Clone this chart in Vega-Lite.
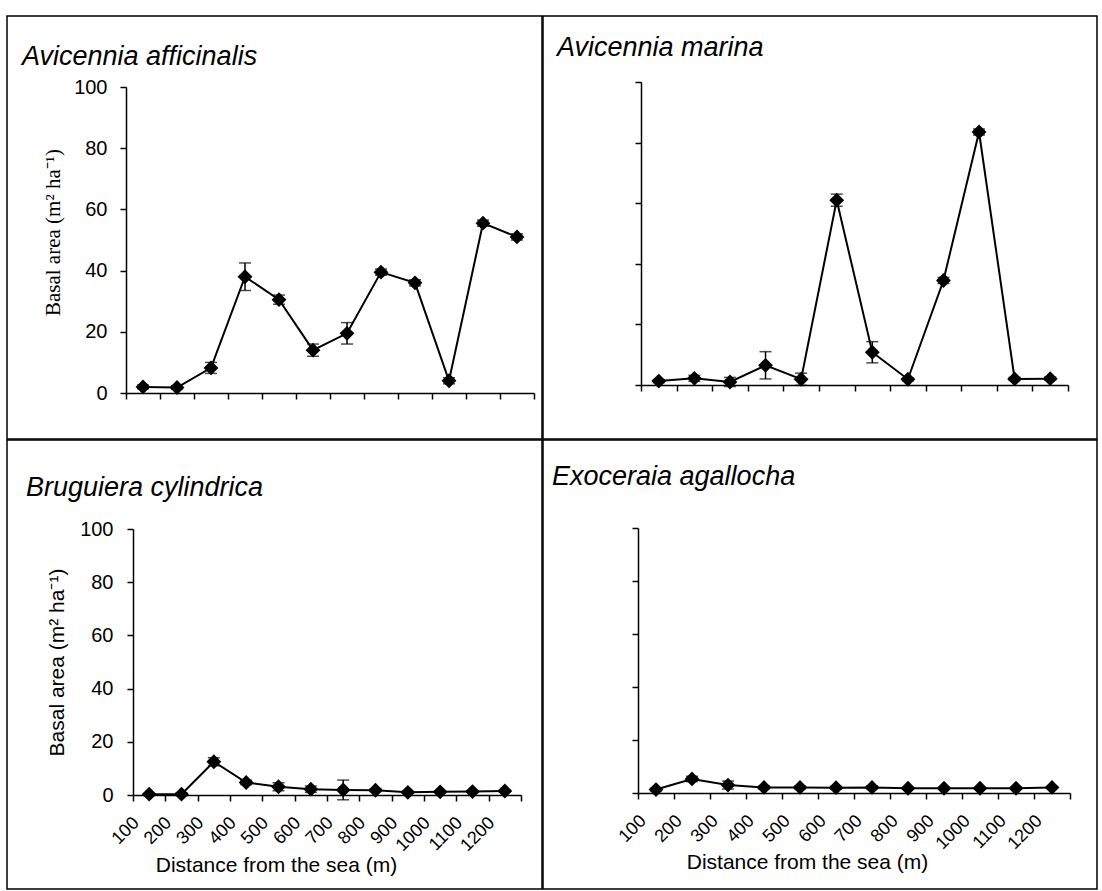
{
  "$schema": "https://vega.github.io/schema/vega-lite/v6.json",
  "background": "white",
  "padding": {"left": 6, "top": 15, "right": 0, "bottom": 0},
  "datasets": {
    "basal": [
      {"species": "Avicennia afficinalis", "distance": 100, "value": 2.0, "err": 0.6},
      {"species": "Avicennia afficinalis", "distance": 200, "value": 1.8, "err": 0.6},
      {"species": "Avicennia afficinalis", "distance": 300, "value": 8.2, "err": 1.8},
      {"species": "Avicennia afficinalis", "distance": 400, "value": 38.0, "err": 4.5},
      {"species": "Avicennia afficinalis", "distance": 500, "value": 30.5, "err": 1.5},
      {"species": "Avicennia afficinalis", "distance": 600, "value": 14.0, "err": 2.0},
      {"species": "Avicennia afficinalis", "distance": 700, "value": 19.5, "err": 3.5},
      {"species": "Avicennia afficinalis", "distance": 800, "value": 39.5, "err": 1.0},
      {"species": "Avicennia afficinalis", "distance": 900, "value": 36.0, "err": 1.0},
      {"species": "Avicennia afficinalis", "distance": 1000, "value": 4.0, "err": 1.0},
      {"species": "Avicennia afficinalis", "distance": 1100, "value": 55.5, "err": 1.0},
      {"species": "Avicennia afficinalis", "distance": 1200, "value": 51.0, "err": 1.0},
      {"species": "Avicennia marina", "distance": 100, "value": 1.3, "err": 0.5},
      {"species": "Avicennia marina", "distance": 200, "value": 2.2, "err": 1.0},
      {"species": "Avicennia marina", "distance": 300, "value": 1.0, "err": 1.5},
      {"species": "Avicennia marina", "distance": 400, "value": 6.5, "err": 4.5},
      {"species": "Avicennia marina", "distance": 500, "value": 1.9, "err": 2.0},
      {"species": "Avicennia marina", "distance": 600, "value": 61.0, "err": 2.0},
      {"species": "Avicennia marina", "distance": 700, "value": 10.8, "err": 3.5},
      {"species": "Avicennia marina", "distance": 800, "value": 1.9, "err": 0.5},
      {"species": "Avicennia marina", "distance": 900, "value": 34.5, "err": 1.0},
      {"species": "Avicennia marina", "distance": 1000, "value": 83.5, "err": 1.0},
      {"species": "Avicennia marina", "distance": 1100, "value": 2.0, "err": 0.5},
      {"species": "Avicennia marina", "distance": 1200, "value": 2.1, "err": 0.5},
      {"species": "Bruguiera cylindrica", "distance": 100, "value": 0.3, "err": 0.3},
      {"species": "Bruguiera cylindrica", "distance": 200, "value": 0.3, "err": 0.5},
      {"species": "Bruguiera cylindrica", "distance": 300, "value": 12.5, "err": 1.5},
      {"species": "Bruguiera cylindrica", "distance": 400, "value": 4.7, "err": 0.8},
      {"species": "Bruguiera cylindrica", "distance": 500, "value": 3.1, "err": 1.5},
      {"species": "Bruguiera cylindrica", "distance": 600, "value": 2.2, "err": 1.2},
      {"species": "Bruguiera cylindrica", "distance": 700, "value": 1.9, "err": 3.7},
      {"species": "Bruguiera cylindrica", "distance": 800, "value": 1.8, "err": 0.5},
      {"species": "Bruguiera cylindrica", "distance": 900, "value": 1.0, "err": 0.3},
      {"species": "Bruguiera cylindrica", "distance": 1000, "value": 1.2, "err": 0.3},
      {"species": "Bruguiera cylindrica", "distance": 1100, "value": 1.3, "err": 0.3},
      {"species": "Bruguiera cylindrica", "distance": 1200, "value": 1.5, "err": 0.3},
      {"species": "Exoceraia agallocha", "distance": 100, "value": 1.3, "err": 0.5},
      {"species": "Exoceraia agallocha", "distance": 200, "value": 5.3, "err": 1.0},
      {"species": "Exoceraia agallocha", "distance": 300, "value": 3.0, "err": 1.5},
      {"species": "Exoceraia agallocha", "distance": 400, "value": 2.1, "err": 0.5},
      {"species": "Exoceraia agallocha", "distance": 500, "value": 2.1, "err": 0.5},
      {"species": "Exoceraia agallocha", "distance": 600, "value": 2.0, "err": 0.5},
      {"species": "Exoceraia agallocha", "distance": 700, "value": 2.1, "err": 0.5},
      {"species": "Exoceraia agallocha", "distance": 800, "value": 1.8, "err": 0.3},
      {"species": "Exoceraia agallocha", "distance": 900, "value": 1.8, "err": 0.3},
      {"species": "Exoceraia agallocha", "distance": 1000, "value": 1.8, "err": 0.3},
      {"species": "Exoceraia agallocha", "distance": 1100, "value": 1.8, "err": 0.3},
      {"species": "Exoceraia agallocha", "distance": 1200, "value": 2.1, "err": 0.3}
    ]
  },
  "spacing": -2,
  "vconcat": [
    {
      "spacing": -2,
      "hconcat": [
        {
          "width": 535,
          "height": 423,
          "data": {"name": "basal"},
          "transform": [{"filter": {"field": "species", "equal": "Avicennia afficinalis"}}],
          "title": {"text": "Avicennia afficinalis", "anchor": "start", "frame": "group", "offset": -76, "baseline": "alphabetic", "dx": 15},
          "encoding": {
            "x": {
              "field": "distance", "type": "quantitative",
              "scale": {"domain": [50, 1250], "range": [119, 527], "nice": false, "zero": false},
              "axis": {"values": [50, 150, 250, 350, 450, 550, 650, 750, 850, 950, 1050, 1150, 1250], "labels": false, "title": null, "offset": -46}
            },
            "y": {
              "field": "value", "type": "quantitative",
              "scale": {"domain": [0, 100], "range": [377, 71], "nice": false, "zero": false},
              "axis": {"values": [0, 20, 40, 60, 80, 100], "offset": -119, "title": "Basal area (m² ha⁻¹)", "titleFont": "Liberation Serif", "titleFontSize": 21, "titlePadding": 10, "titleY": 216}
            }
          },
          "layer": [
            {"mark": {"type": "errorbar", "ticks": true, "size": 12, "thickness": 1.5, "color": "black"}, "encoding": {"yError": {"field": "err"}}},
            {"mark": {"type": "line", "color": "black", "strokeWidth": 2}},
            {"mark": {"type": "point", "shape": "diamond", "filled": true, "size": 220, "color": "black", "opacity": 1}}
          ]
        },
        {
          "width": 554,
          "height": 423,
          "data": {"name": "basal"},
          "transform": [{"filter": {"field": "species", "equal": "Avicennia marina"}}],
          "title": {"text": "Avicennia marina", "anchor": "start", "frame": "group", "offset": -67, "baseline": "alphabetic", "dx": 14},
          "encoding": {
            "x": {
              "field": "distance", "type": "quantitative",
              "scale": {"domain": [50, 1250], "range": [98, 525], "nice": false, "zero": false},
              "axis": {"values": [50, 150, 250, 350, 450, 550, 650, 750, 850, 950, 1050, 1150, 1250], "labels": false, "title": null, "offset": -54}
            },
            "y": {
              "field": "value", "type": "quantitative",
              "scale": {"domain": [0, 100], "range": [369, 66], "nice": false, "zero": false},
              "axis": {"values": [0, 20, 40, 60, 80, 100], "offset": -98, "labels": false, "title": null}
            }
          },
          "layer": [
            {"mark": {"type": "errorbar", "ticks": true, "size": 12, "thickness": 1.5, "color": "black"}, "encoding": {"yError": {"field": "err"}}},
            {"mark": {"type": "line", "color": "black", "strokeWidth": 2}},
            {"mark": {"type": "point", "shape": "diamond", "filled": true, "size": 220, "color": "black", "opacity": 1}}
          ]
        }
      ]
    },
    {
      "spacing": -2,
      "hconcat": [
        {
          "width": 535,
          "height": 449,
          "data": {"name": "basal"},
          "transform": [{"filter": {"field": "species", "equal": "Bruguiera cylindrica"}}],
          "title": {"text": "Bruguiera cylindrica", "anchor": "start", "frame": "group", "offset": -83, "baseline": "alphabetic", "dx": 19},
          "encoding": {
            "x": {
              "field": "distance", "type": "quantitative",
              "scale": {"domain": [50, 1250], "range": [126, 514], "nice": false, "zero": false},
              "axis": {
                "values": [50, 150, 250, 350, 450, 550, 650, 750, 850, 950, 1050, 1150, 1250],
                "offset": -94,
                "labelExpr": "datum.value < 1200 ? format(datum.value + 50, 'd') : ''",
                "labelAngle": -45, "labelAlign": "right", "labelBaseline": "middle",
                "labelOffset": 3, "labelPadding": 19, "labelFontSize": 18,
                "labelOverlap": false, "labelBound": false, "labelFlush": false,
                "title": "Distance from the sea (m)", "titleFontSize": 21,
                "titleX": 269, "titleY": 76, "titleBaseline": "alphabetic"
              }
            },
            "y": {
              "field": "value", "type": "quantitative",
              "scale": {"domain": [0, 100], "range": [355, 89], "nice": false, "zero": false},
              "axis": {"values": [0, 20, 40, 60, 80, 100], "offset": -126, "labelPadding": 14, "title": "Basal area (m² ha⁻¹)", "titleFontSize": 21, "titlePadding": 12}
            }
          },
          "layer": [
            {"mark": {"type": "errorbar", "ticks": true, "size": 12, "thickness": 1.5, "color": "black"}, "encoding": {"yError": {"field": "err"}}},
            {"mark": {"type": "line", "color": "black", "strokeWidth": 2}},
            {"mark": {"type": "point", "shape": "diamond", "filled": true, "size": 220, "color": "black", "opacity": 1}}
          ]
        },
        {
          "width": 554,
          "height": 449,
          "data": {"name": "basal"},
          "transform": [{"filter": {"field": "species", "equal": "Exoceraia agallocha"}}],
          "title": {"text": "Exoceraia agallocha", "anchor": "start", "frame": "group", "offset": -72, "baseline": "alphabetic", "dx": 9},
          "encoding": {
            "x": {
              "field": "distance", "type": "quantitative",
              "scale": {"domain": [50, 1250], "range": [95, 527], "nice": false, "zero": false},
              "axis": {
                "values": [50, 150, 250, 350, 450, 550, 650, 750, 850, 950, 1050, 1150, 1250],
                "offset": -96,
                "labelExpr": "datum.value < 1200 ? format(datum.value + 50, 'd') : ''",
                "labelAngle": -45, "labelAlign": "right", "labelBaseline": "middle",
                "labelOffset": 5, "labelPadding": 19, "labelFontSize": 18,
                "labelOverlap": false, "labelBound": false, "labelFlush": false,
                "title": "Distance from the sea (m)", "titleFontSize": 21,
                "titleX": 264, "titleY": 75, "titleBaseline": "alphabetic"
              }
            },
            "y": {
              "field": "value", "type": "quantitative",
              "scale": {"domain": [0, 100], "range": [353, 88], "nice": false, "zero": false},
              "axis": {"values": [0, 20, 40, 60, 80, 100], "offset": -95, "labels": false, "title": null}
            }
          },
          "layer": [
            {"mark": {"type": "errorbar", "ticks": true, "size": 12, "thickness": 1.5, "color": "black"}, "encoding": {"yError": {"field": "err"}}},
            {"mark": {"type": "line", "color": "black", "strokeWidth": 2}},
            {"mark": {"type": "point", "shape": "diamond", "filled": true, "size": 220, "color": "black", "opacity": 1}}
          ]
        }
      ]
    }
  ],
  "config": {
    "font": "Liberation Sans",
    "view": {"stroke": "black", "strokeWidth": 1.5},
    "title": {"font": "Liberation Sans", "fontStyle": "italic", "fontWeight": "normal", "fontSize": 27, "color": "black"},
    "axis": {
      "grid": false,
      "domainColor": "black", "domainWidth": 1.5,
      "tickColor": "black", "tickWidth": 1.5, "tickSize": 6,
      "labelColor": "black", "labelFont": "Liberation Sans", "labelFontSize": 20, "labelPadding": 13,
      "titleColor": "black", "titleFont": "Liberation Sans", "titleFontWeight": "normal"
    }
  }
}
